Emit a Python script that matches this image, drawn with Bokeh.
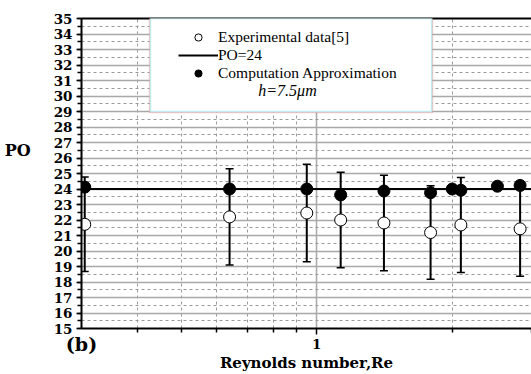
from bokeh.plotting import figure
from bokeh.models import (Range1d, FixedTicker, SingleIntervalTicker, LinearAxis,
                          LogAxis, PrintfTickFormatter, ColumnDataSource, Whisker,
                          TeeHead, Legend, LegendItem, BoxAnnotation, Label)
from bokeh.embed import file_html
from bokeh.resources import INLINE

# Experimental data [5]: Reynolds number, Poiseuille number, error half-width
re_exp = [0.305, 0.64, 0.95, 1.13, 1.41, 1.79, 2.09, 2.83]
po_exp = [21.72, 22.2, 22.45, 22.0, 21.81, 21.19, 21.68, 21.43]
po_err = [3.05, 3.1, 3.15, 3.08, 3.08, 3.02, 3.06, 3.06]

# Computation approximation, h = 7.5 um
re_cmp = [0.305, 0.64, 0.95, 1.13, 1.41, 1.79, 2.0, 2.09, 2.52, 2.83]
po_cmp = [24.12, 24.0, 24.0, 23.62, 23.87, 23.76, 24.0, 23.92, 24.18, 24.23]

# Theoretical value
po_theory = 24
re_min, re_max = 0.3, 3
po_min, po_max = 15, 35

x_major = [1]
x_minor = [0.4, 0.5, 0.6, 0.7, 0.8, 0.9, 2, 3]

SERIF_BOLD = "DejaVu Serif"
SERIF = "Liberation Serif"

p = figure(width=531, height=374, x_axis_type="log",
           x_range=Range1d(re_min, re_max), y_range=Range1d(po_min, po_max),
           output_backend="svg", toolbar_location=None,
           min_border_left=81, min_border_right=0, min_border_top=18,
           min_border_bottom=46)
p.outline_line_color = None
p.background_fill_color = "white"
p.border_fill_color = "white"

# x axis (log)
xa = p.xaxis[0]
xa.ticker = FixedTicker(ticks=x_major, minor_ticks=x_minor)
xa.formatter = PrintfTickFormatter(format="%d")
xa.axis_line_width = 2
xa.major_tick_line_width = 1.5
xa.minor_tick_line_width = 1.5
xa.major_tick_out = 6
xa.major_tick_in = 0
xa.minor_tick_out = 4
xa.minor_tick_in = 0
xa.major_label_standoff = 4
xa.major_label_text_font = SERIF_BOLD
xa.major_label_text_font_style = "bold"
xa.major_label_text_font_size = "13.5px"
xa.major_label_text_color = "black"
xa.axis_label = "Reynolds number,Re"
xa.axis_label_standoff = 2
xa.axis_label_text_font = SERIF_BOLD
xa.axis_label_text_font_style = "bold"
xa.axis_label_text_font_size = "15px"
xa.axis_label_text_color = "black"

# second, line-less bottom axis carrying the panel tag at the origin;
# its negative standoff lifts the tag back up beside the x axis
tag_axis = LogAxis(ticker=FixedTicker(ticks=[re_min], minor_ticks=[]),
                   formatter=PrintfTickFormatter(format="(b)"),
                   axis_line_color=None, major_tick_line_color=None,
                   minor_tick_line_color=None, major_tick_out=0,
                   major_tick_in=0, minor_tick_out=0, minor_tick_in=0,
                   major_label_standoff=-42,
                   major_label_text_font=SERIF_BOLD,
                   major_label_text_font_style="bold",
                   major_label_text_font_size="19px",
                   major_label_text_color="black")
p.add_layout(tag_axis, "below")

# y axis
ya = p.yaxis[0]
ya.ticker = SingleIntervalTicker(interval=1, num_minor_ticks=2)
ya.axis_line_width = 2
ya.major_tick_line_width = 1.5
ya.minor_tick_line_width = 1.5
ya.major_tick_out = 5
ya.major_tick_in = 0
ya.minor_tick_out = 4
ya.minor_tick_in = 0
ya.major_label_standoff = 4
ya.major_label_text_font = SERIF_BOLD
ya.major_label_text_font_style = "bold"
ya.major_label_text_font_size = "13.5px"
ya.major_label_text_color = "black"
ya.axis_label = "PO\n\n"
ya.axis_label_orientation = "horizontal"
ya.axis_label_standoff = 20
ya.axis_label_text_font = SERIF_BOLD
ya.axis_label_text_font_style = "bold"
ya.axis_label_text_font_size = "16px"
ya.axis_label_text_color = "black"

# top frame line
top_axis = LinearAxis(ticker=FixedTicker(ticks=[]), axis_line_width=2,
                      major_tick_line_color=None, minor_tick_line_color=None,
                      major_label_text_font_size="0px")
p.add_layout(top_axis, "above")

# grids: solid at major ticks, dashed at minor ticks
for g in (p.xgrid[0], p.ygrid[0]):
    g.grid_line_color = "#a8a8a8"
    g.grid_line_width = 1.5
    g.minor_grid_line_color = "#9a9a9a"
    g.minor_grid_line_width = 1
    g.minor_grid_line_dash = "3 3"

# PO = 24 reference line
theory = p.line(x=[re_min, re_max], y=[po_theory, po_theory],
                line_color="black", line_width=2)

# error bars on experimental data
err_src = ColumnDataSource(data=dict(
    x=re_exp,
    lower=[v - e for v, e in zip(po_exp, po_err)],
    upper=[v + e for v, e in zip(po_exp, po_err)],
))
p.add_layout(Whisker(source=err_src, base="x", lower="lower", upper="upper",
                     line_color="black", line_width=2,
                     upper_head=TeeHead(size=8, line_width=1.5, line_color="black"),
                     lower_head=TeeHead(size=8, line_width=1.5, line_color="black")))

exp = p.scatter(x=re_exp, y=po_exp, marker="circle", size=12,
                fill_color="white", line_color="black", line_width=1)
cmp = p.scatter(x=re_cmp, y=po_cmp, marker="circle", size=12,
                fill_color="black", line_color="black", line_width=1)

# legend box (double border)
box_left, box_right = 0.427, 1.80
p.add_layout(BoxAnnotation(left=box_left * 0.995, right=box_right * 1.004,
                           bottom=29 - 0.07, top=po_max + 0.07,
                           fill_color="white", fill_alpha=1,
                           line_color="#e05a5a", line_width=1.5, level="annotation"))
p.add_layout(BoxAnnotation(left=box_left, right=box_right, bottom=29, top=po_max,
                           fill_color="white", fill_alpha=1,
                           line_color="#30c8d8", line_width=1.5, level="annotation"))

legend = Legend(items=[
    LegendItem(label="Experimental data[5]", renderers=[exp]),
    LegendItem(label="PO=24", renderers=[theory]),
    LegendItem(label="Computation Approximation", renderers=[cmp]),
], location=(97, 246), padding=0, margin=0, spacing=0,
    glyph_width=40, glyph_height=18, label_height=18, label_standoff=0,
    label_text_font=SERIF, label_text_font_size="15.5px",
    label_text_color="black",
    border_line_color=None, background_fill_alpha=0)
p.add_layout(legend, "center")

p.add_layout(Label(x=206, y=238, x_units="screen", y_units="screen",
                   text="h=7.5μm", text_font=SERIF, text_font_style="italic",
                   text_font_size="16px", text_align="center",
                   text_baseline="middle", text_color="black"))

open("out.html", "w").write(file_html(p, INLINE))
